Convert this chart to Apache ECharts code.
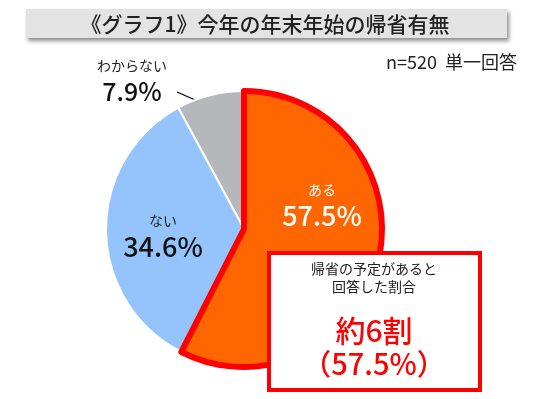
<!DOCTYPE html>
<html>
<head>
<meta charset="utf-8">
<script src="https://cdn.jsdelivr.net/npm/echarts@6/dist/echarts.min.js"></script>
<style>
  html, body { margin: 0; padding: 0; background: #fff; }
  #chart { width: 536px; height: 399px; }
</style>
</head>
<body>
<div id="chart"></div>
<script>
// data (drawn counter-clockwise from 12 o'clock so the highlighted slice is on top)
let names  = ['わからない', 'ない', 'ある'];
let values = [7.9, 34.6, 57.5];
let colors = ['#b6b7bb', '#94c4fb', '#ff6600'];

let titleText = '《グラフ1》今年の年末年始の帰省有無';
let noteText  = 'n=520  単一回答';
let boxLines  = ['帰省の予定があると', '回答した割合'];
let boxBig    = ['約6割', '（57.5%）'];

let FONT = '"Noto Sans CJK JP", "Noto Sans", sans-serif';

let myChart = echarts.init(document.getElementById('chart'));

let pieData = [];
for (let i = 0; i < values.length; i++) {
    let item = {
        name: names[i],
        value: values[i],
        itemStyle: { color: colors[i], borderColor: '#fff', borderWidth: 2 }
    };
    if (i == 0) {
        // outside label with a short leader
        item.label = {
            position: 'outside',
            formatter: '{a|{b}}\n{b2|{c}%}',
            rich: {
                a: { fontSize: 14, color: '#222', fontFamily: FONT, lineHeight: 22 },
                b2: { fontSize: 25, color: '#111', fontFamily: FONT, fontWeight: 500, lineHeight: 28 }
            }
        };
        item.labelLine = { show: true, lineStyle: { color: '#000', width: 1.2 } };
    } else if (i == 1) {
        item.label = {
            position: 'inside',
            offset: [-9, 6],
            formatter: '{a|{b}}\n{b2|{c}%}',
            rich: {
                a: { fontSize: 14, color: '#222', fontFamily: FONT, lineHeight: 22 },
                b2: { fontSize: 27, color: '#111', fontFamily: FONT, fontWeight: 500, lineHeight: 31 }
            }
        };
    } else {
        item.itemStyle = { color: colors[i], borderColor: '#ff0000', borderWidth: 6 };
        item.label = {
            position: 'inside',
            offset: [8, -41],
            formatter: '{a|{b}}\n{b2|{c}%}',
            rich: {
                a: { fontSize: 14, color: '#fff', fontFamily: FONT, lineHeight: 22 },
                b2: { fontSize: 27, color: '#fff', fontFamily: FONT, fontWeight: 500, lineHeight: 31 }
            }
        };
    }
    pieData.push(item);
}

option = {
    animation: false,
    graphic: [
        {
            type: 'rect', z: 100,
            shape: { x: 26, y: 9, width: 481, height: 29 },
            style: { fill: '#e3e3e3', shadowBlur: 4, shadowOffsetX: 2, shadowOffsetY: 3, shadowColor: 'rgba(0,0,0,0.45)' }
        },
        {
            type: 'text', z: 101, x: 265, y: 24,
            style: { text: titleText, fontSize: 21, fontWeight: 500, fontFamily: FONT, fill: '#222', align: 'center', verticalAlign: 'middle' }
        },
        {
            type: 'text', z: 101, x: 517, y: 62,
            style: { text: noteText, fontSize: 18, fontFamily: FONT, fill: '#222', align: 'right', verticalAlign: 'middle' }
        },
        {
            type: 'rect', z: 100,
            shape: { x: 269, y: 253, width: 211, height: 137 },
            style: { fill: '#fff', stroke: '#ff0000', lineWidth: 4 }
        },
        {
            type: 'text', z: 101, x: 374, y: 278,
            style: { text: boxLines.join('\n'), fontSize: 14, fontFamily: FONT, fill: '#222', align: 'center', verticalAlign: 'middle', lineHeight: 18 }
        },
        {
            type: 'text', z: 101, x: 374, y: 331,
            style: { text: boxBig[0], fontSize: 30, fontWeight: 500, fontFamily: FONT, fill: '#ff0000', align: 'center', verticalAlign: 'middle' }
        },
        {
            type: 'text', z: 101, x: 374, y: 364,
            style: { text: boxBig[1], fontSize: 29, fontWeight: 500, fontFamily: FONT, fill: '#ff0000', align: 'center', verticalAlign: 'middle' }
        }
    ],
    series: [
        {
            type: 'pie',
            center: [244, 229],
            radius: [0, 138],
            startAngle: 90,
            clockwise: false,
            silent: true,
            labelLayout: function (params) {
                if (params.dataIndex == 0) {
                    return {
                        x: 132, y: 80, align: 'center', verticalAlign: 'middle',
                        labelLinePoints: [[211, 107], [177, 92], [177, 92]]
                    };
                }
            },
            data: pieData
        }
    ]
};

myChart.setOption(option);
</script>
</body>
</html>
